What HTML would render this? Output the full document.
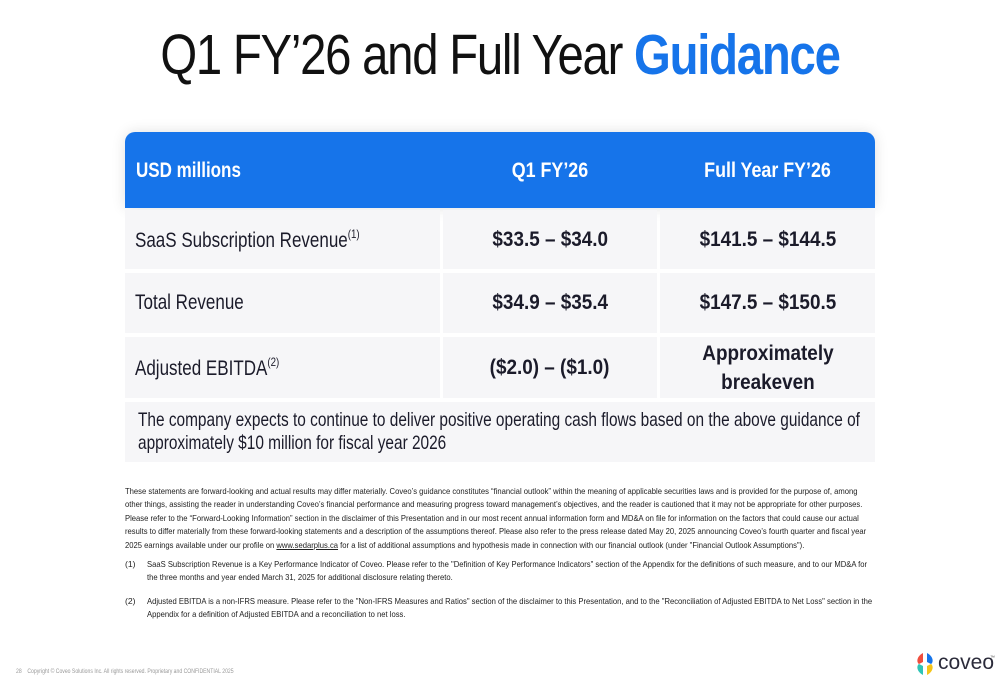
<!DOCTYPE html>
<html><head><meta charset="utf-8"><style>
*{margin:0;padding:0;box-sizing:border-box}
body{width:1000px;height:685px;background:#fff;font-family:"Liberation Sans",sans-serif;color:#1b1b2a;position:relative;overflow:hidden}
.abs{position:absolute}
h1{position:absolute;left:0;width:1000px;top:22px;text-align:center;font-weight:normal;font-size:57px;letter-spacing:-1.5px;color:#111;transform:scaleX(.83);white-space:nowrap}
h1 b{color:#1674ea}
.cell{position:absolute;background:#f6f6f8;display:flex;align-items:center;font-size:21px;white-space:nowrap}
.c{justify-content:center;font-weight:bold;text-align:center}
.l{padding-left:10px}
.nl{display:inline-block;transform:scaleX(.81);transform-origin:left center}
.nc{display:inline-block;transform:scaleX(.9);transform-origin:center}
sup{font-size:12px;vertical-align:9px}
.hd{position:absolute;left:125px;top:132px;width:750px;height:76px;background:#1674ea;border-radius:10px 10px 0 0;box-shadow:0 0 14px rgba(0,0,0,.12);color:#fff;font-weight:bold;font-size:21px;white-space:nowrap}
.hd > span{position:absolute;top:27px}
.disc{position:absolute;left:125px;width:750px;font-size:8.6px;line-height:13.4px;color:#222}
.disc div{white-space:nowrap;transform:scaleX(.89);transform-origin:left}
</style></head><body>
<h1>Q1 FY’26 and Full Year <b>Guidance</b></h1>
<div class="hd">
<span style="left:11px"><span class="nl">USD millions</span></span>
<span style="left:318px;width:214px;text-align:center"><span class="nc" style="transform:scaleX(.85)">Q1 FY’26</span></span>
<span style="left:535px;width:215px;text-align:center"><span class="nc" style="transform:scaleX(.85)">Full Year FY’26</span></span>
</div>
<div class="cell l" style="left:125px;top:210px;width:315px;height:59px"><span class="nl">SaaS Subscription Revenue<sup>(1)</sup></span></div>
<div class="cell c" style="left:443px;top:210px;width:214px;height:59px"><span class="nc">$33.5 – $34.0</span></div>
<div class="cell c" style="left:660px;top:210px;width:215px;height:59px"><span class="nc">$141.5 – $144.5</span></div>
<div class="cell l" style="left:125px;top:273px;width:315px;height:60px"><span class="nl">Total Revenue</span></div>
<div class="cell c" style="left:443px;top:273px;width:214px;height:60px"><span class="nc">$34.9 – $35.4</span></div>
<div class="cell c" style="left:660px;top:273px;width:215px;height:60px"><span class="nc">$147.5 – $150.5</span></div>
<div class="cell l" style="left:125px;top:337px;width:315px;height:61px"><span class="nl">Adjusted EBITDA<sup>(2)</sup></span></div>
<div class="cell c" style="left:443px;top:337px;width:214px;height:61px"><span class="nc">($2.0) – ($1.0)</span></div>
<div class="cell c" style="left:660px;top:337px;width:215px;height:61px;line-height:29px"><span class="nc">Approximately<br>breakeven</span></div>
<div class="cell" style="left:125px;top:402px;width:750px;height:60px;padding-left:13px;font-size:19.5px;line-height:23px"><span class="nl" style="transform:scaleX(.79)">The company expects to continue to deliver positive operating cash flows based on the above guidance of<br>approximately $10 million for fiscal year 2026</span></div>
<div class="disc" style="top:485px">
<div>These statements are forward-looking and actual results may differ materially. Coveo’s guidance constitutes “financial outlook” within the meaning of applicable securities laws and is provided for the purpose of, among</div>
<div>other things, assisting the reader in understanding Coveo’s financial performance and measuring progress toward management’s objectives, and the reader is cautioned that it may not be appropriate for other purposes.</div>
<div>Please refer to the “Forward-Looking Information” section in the disclaimer of this Presentation and in our most recent annual information form and MD&amp;A on file for information on the factors that could cause our actual</div>
<div>results to differ materially from these forward-looking statements and a description of the assumptions thereof. Please also refer to the press release dated May 20, 2025 announcing Coveo’s fourth quarter and fiscal year</div>
<div>2025 earnings available under our profile on <u>www.sedarplus.ca</u> for a list of additional assumptions and hypothesis made in connection with our financial outlook (under "Financial Outlook Assumptions").</div>
</div>
<div class="disc" style="top:558px;padding-left:22px"><span class="abs" style="left:0">(1)</span>
<div>SaaS Subscription Revenue is a Key Performance Indicator of Coveo. Please refer to the "Definition of Key Performance Indicators" section of the Appendix for the definitions of such measure, and to our MD&amp;A for</div>
<div>the three months and year ended March 31, 2025 for additional disclosure relating thereto.</div></div>
<div class="disc" style="top:595px;padding-left:22px"><span class="abs" style="left:0">(2)</span>
<div>Adjusted EBITDA is a non-IFRS measure. Please refer to the "Non-IFRS Measures and Ratios" section of the disclaimer to this Presentation, and to the "Reconciliation of Adjusted EBITDA to Net Loss" section in the</div>
<div>Appendix for a definition of Adjusted EBITDA and a reconciliation to net loss.</div></div>
<div class="abs" style="left:16px;top:669px;font-size:6px;color:#999;white-space:nowrap;transform:scaleX(.85);transform-origin:left">28 &nbsp;&nbsp; Copyright © Coveo Solutions Inc. All rights reserved. Proprietary and CONFIDENTIAL 2025</div>
<div class="abs" style="left:914px;top:651px;width:80px;height:26px">
<svg width="22" height="26" viewBox="0 0 22 26" style="position:absolute;left:0;top:0">
<path d="M9 2 C3 5 2 11 5 13 L9 11Z" fill="#f04e3e"/><path d="M13 2 C19 5 20 11 17 13 L13 11Z" fill="#1674ea"/>
<path d="M9 24 C3 21 2 15 5 13 L9 15Z" fill="#2ec4b6"/><path d="M13 24 C19 21 20 15 17 13 L13 15Z" fill="#f5c518"/></svg>
<span class="abs" style="left:24px;top:0;font-size:21px;color:#2b2b3a">coveo</span>
<span class="abs" style="left:76px;top:4px;font-size:5px;color:#555">™</span>
</div>
</body></html>
